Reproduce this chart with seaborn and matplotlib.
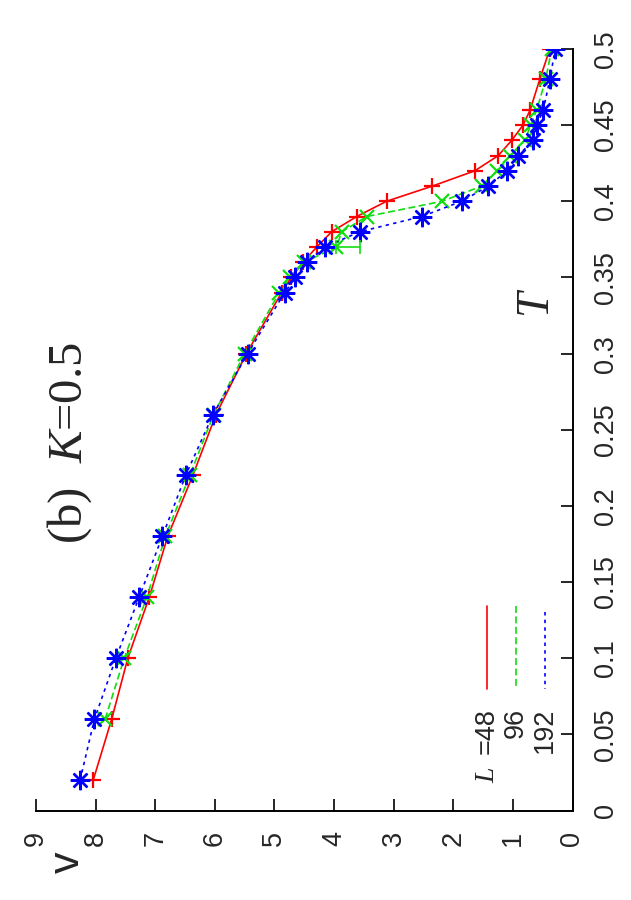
import matplotlib
matplotlib.use("Agg")
import matplotlib.pyplot as plt
import seaborn as sns
from matplotlib.lines import Line2D

# ---- data ----
T48 = [0.02, 0.06, 0.10, 0.14, 0.18, 0.22, 0.26, 0.30, 0.34, 0.35, 0.36, 0.37,
       0.38, 0.39, 0.40, 0.41, 0.42, 0.43, 0.44, 0.45, 0.46, 0.48, 0.50]
v48 = [8.04, 7.73, 7.46, 7.10, 6.79, 6.37, 5.98, 5.47, 4.88, 4.72, 4.52, 4.29,
       4.04, 3.62, 3.12, 2.35, 1.64, 1.245, 1.02, 0.83, 0.71, 0.55, 0.38]
T96 = [0.06, 0.10, 0.14, 0.18, 0.22, 0.26, 0.30, 0.34, 0.35, 0.36, 0.37,
       0.38, 0.39, 0.40, 0.41, 0.42, 0.43, 0.44, 0.45, 0.46, 0.48, 0.50]
v96 = [7.84, 7.52, 7.14, 6.83, 6.42, 6.02, 5.50, 4.92, 4.74, 4.50, 3.96,
       3.87, 3.45, 2.19, 1.52, 1.27, 1.05, 0.80, 0.70, 0.60, 0.45, 0.35]
err96 = [0, 0, 0, 0, 0, 0, 0, 0, 0, 0, 0.40,
         0, 0, 0, 0, 0, 0, 0, 0, 0, 0, 0]
T192 = [0.02, 0.06, 0.10, 0.14, 0.18, 0.22, 0.26, 0.30, 0.34, 0.35, 0.36, 0.37,
        0.38, 0.39, 0.40, 0.41, 0.42, 0.43, 0.44, 0.45, 0.46, 0.48, 0.50]
v192 = [8.26, 8.02, 7.66, 7.27, 6.88, 6.49, 6.03, 5.45, 4.83, 4.65, 4.46, 4.15,
        3.57, 2.53, 1.86, 1.41, 1.10, 0.91, 0.66, 0.60, 0.49, 0.38, 0.29]

v_ticks = [0, 1, 2, 3, 4, 5, 6, 7, 8, 9]
T_ticks = [0, 0.05, 0.1, 0.15, 0.2, 0.25, 0.3, 0.35, 0.4, 0.45, 0.5]
T_ticklabels = ["0", "0.05", "0.1", "0.15", "0.2", "0.25", "0.3", "0.35", "0.4", "0.45", "0.5"]
legend_labels = ["=48", "96", "192"]

RED, GREEN, BLUE = "#ff0000", "#11dd11", "#0000ff"

sns.set_style("white")
plt.rcParams["font.family"] = ["Liberation Sans", "DejaVu Sans"]
plt.rcParams["mathtext.fontset"] = "custom"
plt.rcParams["mathtext.rm"] = "Liberation Serif"
plt.rcParams["mathtext.it"] = "Liberation Serif:italic"
plt.rcParams["lines.scale_dashes"] = False

W, H = 631, 900
fig = plt.figure(figsize=(W / 100, H / 100), dpi=100)
x0, x1, yT0, yT5 = 36, 572.5, 810.5, 49
ax = fig.add_axes([x0 / W, (H - yT0) / H, (x1 - x0) / W, (yT0 - yT5) / H])

sns.lineplot(x=v48, y=T48, sort=False, estimator=None, ax=ax, color=RED,
             linewidth=1.2, marker="+", markersize=11,
             markeredgecolor=RED, markeredgewidth=1.6)
sns.lineplot(x=v96, y=T96, sort=False, estimator=None, ax=ax, color=GREEN,
             linewidth=1.2, linestyle=(0, (5, 2.5)), marker="x", markersize=10,
             markeredgecolor=GREEN, markeredgewidth=1.6)
sns.lineplot(x=v192, y=T192, sort=False, estimator=None, ax=ax, color=BLUE,
             linewidth=1.2, linestyle=(0, (2.5, 3)), marker=(8, 2, 0), markersize=14,
             markeredgecolor=BLUE, markeredgewidth=1.7)

# error bar on the L=96 point with a large uncertainty
for v, t, e in zip(v96, T96, err96):
    if e > 0:
        ax.errorbar([v], [t], xerr=[[e], [0]], fmt="none", ecolor=GREEN,
                    elinewidth=1.2, capsize=5, capthick=1.2, linestyle="--")

ax.set_xlim(9, 0)
ax.set_ylim(0, 0.5)
ax.set_xlabel("")
ax.set_ylabel("")
for s in ["top", "left"]:
    ax.spines[s].set_visible(False)
for s in ["bottom", "right"]:
    ax.spines[s].set_linewidth(1.4)
    ax.spines[s].set_color("black")

ax.set_xticks(v_ticks)
ax.set_xticklabels([str(t) for t in v_ticks], rotation=90, ha="center", va="top")
ax.yaxis.tick_right()
ax.set_yticks(T_ticks)
ax.set_yticklabels(T_ticklabels, rotation=90, ha="left", va="center")
ax.tick_params(axis="x", direction="in", length=9, width=1.4, pad=14.5,
               labelsize=19.5, bottom=True, top=False)
ax.tick_params(axis="y", direction="in", length=9, width=1.4, pad=15,
               labelsize=19.5, right=True, left=False, labelright=True, labelleft=False)

# axis titles and panel label
fig.text(537 / W, 1 - 303 / H, r"$T$", fontsize=33, rotation=90,
         ha="center", va="center")
fig.text(68 / W, 1 - 862 / H, "v", fontsize=31, rotation=90,
         ha="center", va="center")
fig.text(70 / W, 1 - 443 / H, r"(b)  $K$=0.5", fontsize=35, rotation=90,
         ha="center", va="center", family="Liberation Serif")

# legend (rotated)
leg_x = [486.5, 516, 545]
leg_y = [(606, 689), (606, 689), (612, 689)]
leg_styles = [(RED, "-"), (GREEN, (0, (5, 2.5))), (BLUE, (0, (2.5, 3)))]
for xp, (ya, yb), (c, ls), lab in zip(leg_x, leg_y, leg_styles, legend_labels):
    fig.add_artist(Line2D([xp / W, xp / W], [1 - ya / H, 1 - yb / H],
                          transform=fig.transFigure, color=c, linestyle=ls, linewidth=1.2))
    fig.text(xp / W, 1 - 708 / H, lab, fontsize=19.5, rotation=90,
             rotation_mode="anchor", ha="right", va="center")
fig.text(leg_x[0] / W, 1 - 767 / H, r"$L$", fontsize=20, rotation=90,
         rotation_mode="anchor", ha="right", va="center")

fig.savefig("out.png", dpi=100)
